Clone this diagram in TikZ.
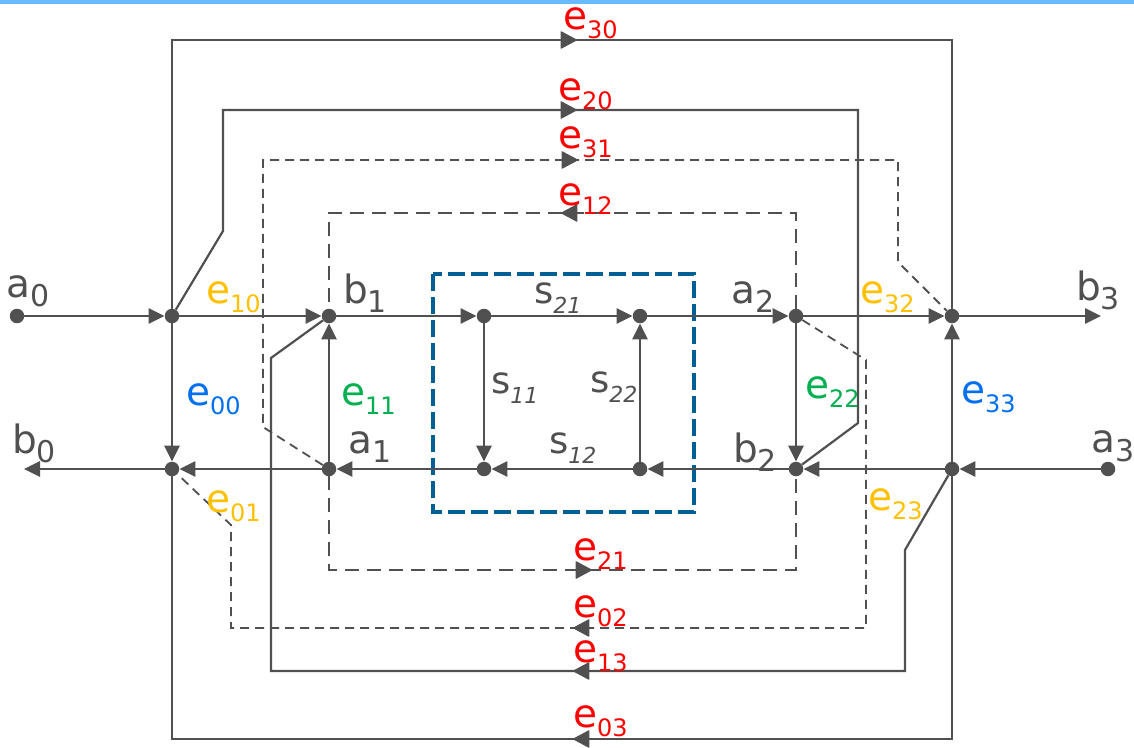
\documentclass[tikz,border=0pt]{standalone}
\usepackage{fontspec}
\setmainfont{DejaVu Sans}
\usetikzlibrary{arrows.meta,calc}
\definecolor{ln}{HTML}{505050}
\definecolor{tx}{HTML}{505050}
\definecolor{ered}{HTML}{FF0000}
\definecolor{eyel}{HTML}{FFC000}
\definecolor{egrn}{HTML}{00B050}
\definecolor{eblu}{HTML}{0070F0}
\definecolor{sbox}{HTML}{006096}
\definecolor{topbar}{HTML}{66BBFF}
\newcommand{\lblab}[2]{\fontsize{39pt}{41pt}\selectfont #1\raisebox{-9pt}{\fontsize{30pt}{31pt}\selectfont #2}}
\newcommand{\lble}[1]{\fontsize{39pt}{41pt}\selectfont e\raisebox{-9pt}{\fontsize{24pt}{25pt}\selectfont #1}}
\newcommand{\lbls}[1]{\fontsize{37pt}{39pt}\selectfont s\raisebox{-10pt}{\fontsize{22pt}{23pt}\selectfont\itshape #1}}
\begin{document}
\begin{tikzpicture}[x=1pt,y=-1pt,
  dot/.style={circle,fill=ln,inner sep=0pt,minimum size=14.5pt},
  mainline/.style={draw=ln,line width=2.8pt,-{Triangle[length=16pt,width=15pt]}},
  loopline/.style={draw=ln,line width=2.2pt},
  shortdash/.style={draw=ln,line width=1.8pt,dash pattern=on 9pt off 6pt},
  longdash/.style={draw=ln,line width=2pt,dash pattern=on 14pt off 8pt},
  midarrow/.style={draw=ln,line width=1pt,-{Triangle[length=17pt,width=18pt,round]}},
  lab/.style={anchor=base west,inner sep=0pt,text=tx},
]
\useasboundingbox (0,0) rectangle (1134,747);
\fill[topbar] (0,0) rectangle (1134,3.5);

% main nodes
\node[dot] (a0) at (17,316) {};
\node[dot] (n0t) at (172,316) {};
\node[dot] (n1t) at (329,316) {};
\node[dot] (s1t) at (484,316) {};
\node[dot] (s2t) at (640,316) {};
\node[dot] (n2t) at (796,316) {};
\node[dot] (n3t) at (952,316) {};
\coordinate (b3e) at (1101,316);
\coordinate (b0e) at (24,469);
\node[dot] (n0b) at (172,469) {};
\node[dot] (n1b) at (329,469) {};
\node[dot] (s1b) at (484,469) {};
\node[dot] (s2b) at (640,469) {};
\node[dot] (n2b) at (796,469) {};
\node[dot] (n3b) at (952,469) {};
\node[dot] (a3) at (1108,469) {};

% blue dashed box
\draw[sbox,line width=4.2pt,dash pattern=on 17pt off 6pt] (433,274) rectangle (694,512);

% loop corners
\coordinate (t30l) at (172,40); \coordinate (t30r) at (952,40);
\coordinate (d20a) at (223,231); \coordinate (t20l) at (223,110);
\coordinate (t20r) at (858,110); \coordinate (d20b) at (858,423);
\coordinate (d31a) at (263,427); \coordinate (t31l) at (263,160);
\coordinate (t31r) at (898,160); \coordinate (d31b) at (898,262);
\coordinate (t12l) at (329,213); \coordinate (t12r) at (796,213);
\coordinate (b21l) at (329,570); \coordinate (b21r) at (796,570);
\coordinate (d02a) at (866,360); \coordinate (b02r) at (866,628);
\coordinate (b02l) at (231,628); \coordinate (d02b) at (231,525);
\coordinate (d13a) at (905,550); \coordinate (b13r) at (905,671);
\coordinate (b13l) at (271,671); \coordinate (d13b) at (271,358);
\coordinate (b03r) at (952,739); \coordinate (b03l) at (172,739);

% loops
\draw[loopline] (n0t) -- (t30l) -- (t30r) -- (n3t);
\draw[loopline] (n0t) -- (d20a) -- (t20l) -- (t20r) -- (d20b) -- (n2b);
\draw[shortdash] (n1b) -- (d31a) -- (t31l) -- (t31r) -- (d31b) -- (n3t);
\draw[longdash] (n2t) -- (t12r) -- (t12l) -- (n1t);
\draw[longdash] (n1b) -- (b21l) -- (b21r) -- (n2b);
\draw[shortdash] (n2t) -- (d02a) -- (b02r) -- (b02l) -- (d02b) -- (n0b);
\draw[loopline] (n3b) -- (d13a) -- (b13r) -- (b13l) -- (d13b) -- (n1t);
\draw[loopline] (n3b) -- (b03r) -- (b03l) -- (n0b);

% mid arrows
\coordinate (m30) at (577,40);
\coordinate (m20) at (577,110);
\coordinate (m31) at (578,160);
\coordinate (m12) at (561,213);
\coordinate (m21) at (592,570);
\coordinate (m02) at (573,628);
\coordinate (m13) at (573,671);
\coordinate (m03) at (573,739);
\draw[midarrow] ($(m30)+(-1,0)$) -- (m30);
\draw[midarrow] ($(m20)+(-1,0)$) -- (m20);
\draw[midarrow] ($(m31)+(-1,0)$) -- (m31);
\draw[midarrow] ($(m12)+(1,0)$) -- (m12);
\draw[midarrow] ($(m21)+(-1,0)$) -- (m21);
\draw[midarrow] ($(m02)+(1,0)$) -- (m02);
\draw[midarrow] ($(m13)+(1,0)$) -- (m13);
\draw[midarrow] ($(m03)+(1,0)$) -- (m03);

% main branches
\draw[mainline] (a0) -- (n0t);
\draw[mainline] (n0t) -- (n1t);
\draw[mainline] (n1t) -- (s1t);
\draw[mainline] (s1t) -- (s2t);
\draw[mainline] (s2t) -- (n2t);
\draw[mainline] (n2t) -- (n3t);
\draw[mainline] (n3t) -- (b3e);
\draw[mainline] (a3) -- (n3b);
\draw[mainline] (n3b) -- (n2b);
\draw[mainline] (n2b) -- (s2b);
\draw[mainline] (s2b) -- (s1b);
\draw[mainline] (s1b) -- (n1b);
\draw[mainline] (n1b) -- (n0b);
\draw[mainline] (n0b) -- (b0e);
\draw[mainline] (n0t) -- (n0b);
\draw[mainline] (n1b) -- (n1t);
\draw[mainline] (s1t) -- (s1b);
\draw[mainline] (s2b) -- (s2t);
\draw[mainline] (n2t) -- (n2b);
\draw[mainline] (n3b) -- (n3t);

% port labels
\node[lab] (la0) at (6,297) {\lblab{a}{0}};
\node[lab] (lb0) at (12,453) {\lblab{b}{0}};
\node[lab] (lb1) at (343,303) {\lblab{b}{1}};
\node[lab] (la1) at (348,453) {\lblab{a}{1}};
\node[lab] (la2) at (731,303) {\lblab{a}{2}};
\node[lab] (lb2) at (733,462) {\lblab{b}{2}};
\node[lab] (lb3) at (1076,300) {\lblab{b}{3}};
\node[lab] (la3) at (1091,452) {\lblab{a}{3}};

% s labels
\node[lab] (ls21) at (534,303) {\lbls{21}};
\node[lab] (ls11) at (491,393) {\lbls{11}};
\node[lab] (ls22) at (590,392) {\lbls{22}};
\node[lab] (ls12) at (549,453) {\lbls{12}};

% e labels
\node[lab,text=eyel] (le10) at (206,303) {\lble{10}};
\node[lab,text=eyel] (le01) at (206,512) {\lble{01}};
\node[lab,text=eyel] (le32) at (860,303) {\lble{32}};
\node[lab,text=eyel] (le23) at (868,510) {\lble{23}};
\node[lab,text=eblu] (le00) at (186,405) {\lble{00}};
\node[lab,text=eblu] (le33) at (961,403) {\lble{33}};
\node[lab,text=egrn] (le11) at (341,405) {\lble{11}};
\node[lab,text=egrn] (le22) at (805,398) {\lble{22}};
\node[lab,text=ered] (le30) at (563,29) {\lble{30}};
\node[lab,text=ered] (le20) at (558,100) {\lble{20}};
\node[lab,text=ered] (le31) at (558,148) {\lble{31}};
\node[lab,text=ered] (le12) at (558,205) {\lble{12}};
\node[lab,text=ered] (le21) at (573,560) {\lble{21}};
\node[lab,text=ered] (le02) at (573,617) {\lble{02}};
\node[lab,text=ered] (le13) at (573,662) {\lble{13}};
\node[lab,text=ered] (le03) at (573,727) {\lble{03}};
\end{tikzpicture}
\end{document}
